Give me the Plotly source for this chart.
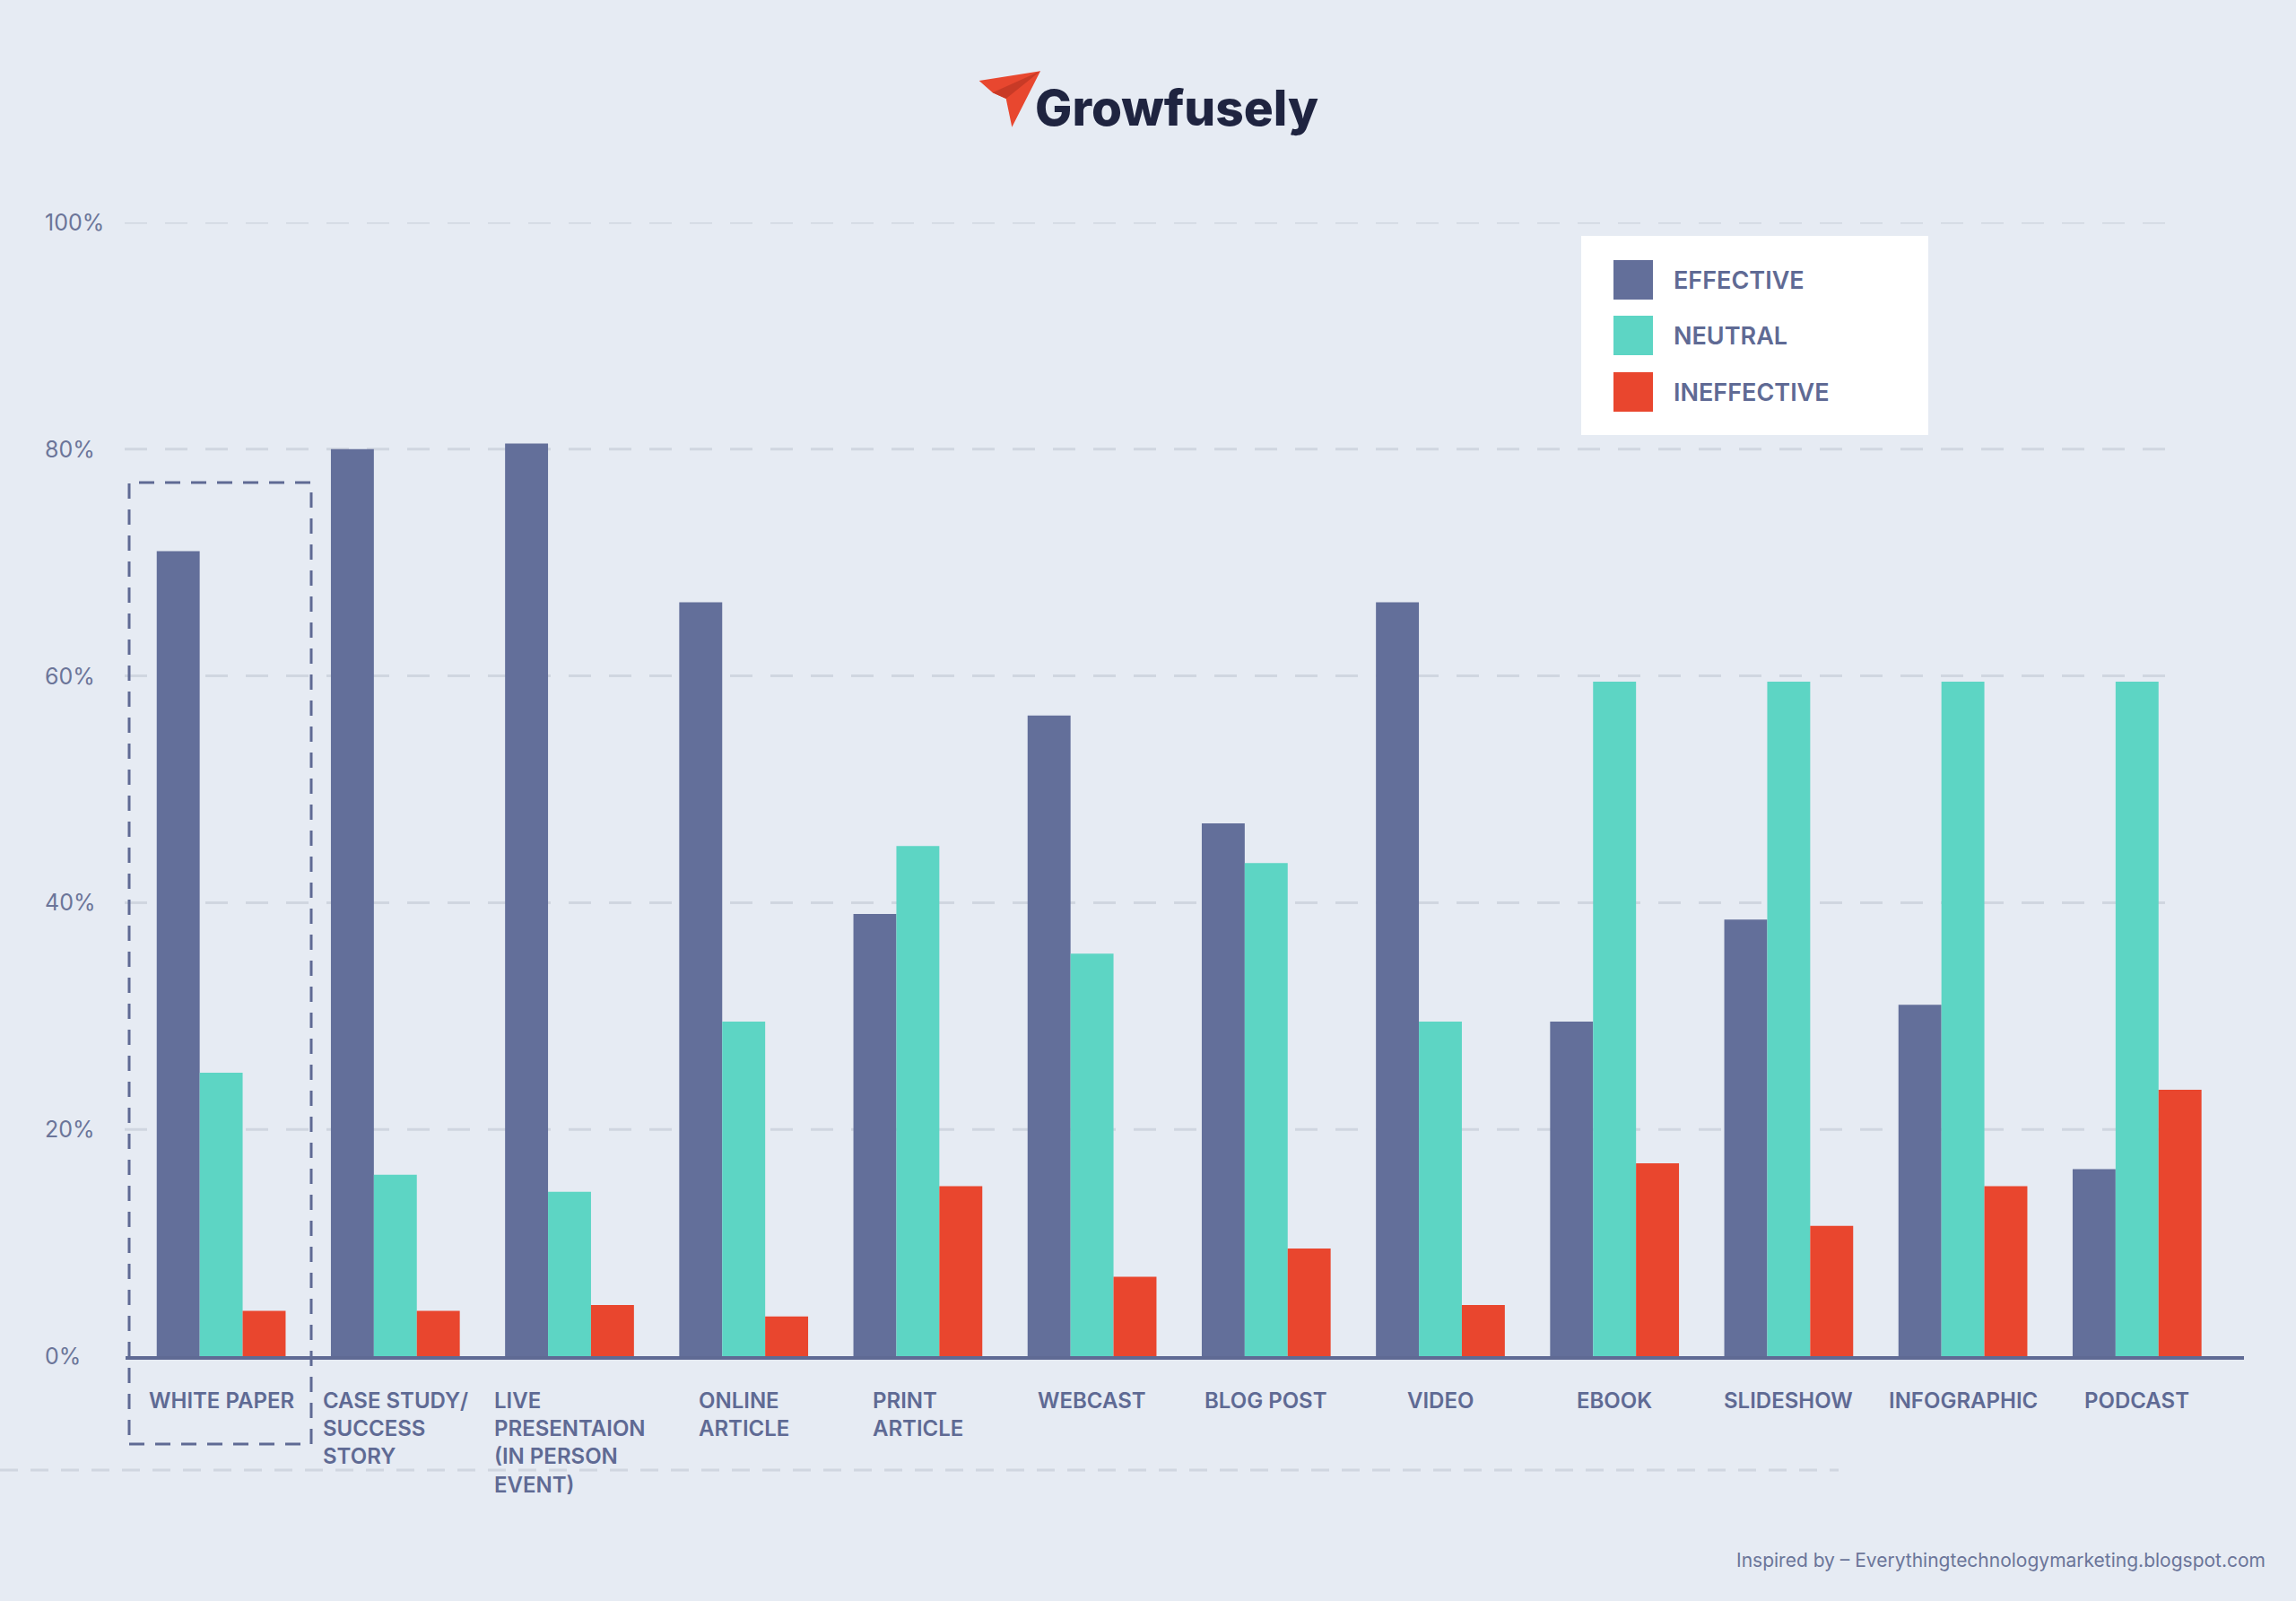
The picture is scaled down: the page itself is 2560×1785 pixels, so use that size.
import plotly.graph_objects as go

# ---------------- data ----------------
categories = ["WHITE PAPER", "CASE STUDY/ SUCCESS STORY", "LIVE PRESENTAION (IN PERSON EVENT)",
              "ONLINE ARTICLE", "PRINT ARTICLE", "WEBCAST", "BLOG POST", "VIDEO",
              "EBOOK", "SLIDESHOW", "INFOGRAPHIC", "PODCAST"]
category_labels = ["WHITE PAPER", "CASE STUDY/<br>SUCCESS<br>STORY",
                   "LIVE<br>PRESENTAION<br>(IN PERSON<br>EVENT)", "ONLINE<br>ARTICLE",
                   "PRINT<br>ARTICLE", "WEBCAST", "BLOG POST", "VIDEO", "EBOOK",
                   "SLIDESHOW", "INFOGRAPHIC", "PODCAST"]
effective = [71, 80, 80.5, 66.5, 39, 56.5, 47, 66.5, 29.5, 38.5, 31, 16.5]
neutral = [25, 16, 14.5, 29.5, 45, 35.5, 43.5, 29.5, 59.5, 59.5, 59.5, 59.5]
ineffective = [4, 4, 4.5, 3.5, 15, 7, 9.5, 4.5, 17, 11.5, 15, 23.5]
series_names = ["EFFECTIVE", "NEUTRAL", "INEFFECTIVE"]
series_colors = ["#636f9a", "#5dd5c4", "#e9462e"]
y_ticks = [0, 20, 40, 60, 80, 100]
y_tick_labels = ["0%", "20%", "40%", "60%", "80%", "100%"]
title_text = "Growfusely"
footer_text = "Inspired by – Everythingtechnologymarketing.blogspot.com"

# ---------------- layout geometry ----------------
W, H = 2560, 1785
L, R_EDGE, T, B_EDGE = 140, 2502, 248, 1512
PW, PH = R_EDGE - L, B_EDGE - T
BG = "#e6ebf3"
TEXT = "#5f6a94"
TEXT_LIGHT = "#6b7599"
GRID = "#d0d6e0"
FONT = "Inter"


def px(xp):
    return (xp - L) / PW


def py(yp):
    return (B_EDGE - yp) / PH


first_center, spacing = 246.6, 194.2
x_range = [(L - first_center) / spacing, (R_EDGE - first_center) / spacing]

fig = go.Figure()
for name, vals, col in zip(series_names, [effective, neutral, ineffective], series_colors):
    fig.add_trace(go.Bar(x=categories, y=vals, name=name, marker=dict(color=col, line=dict(width=0)),
                         showlegend=False, hoverinfo="skip"))

shapes = []
# gridlines
for t in y_ticks[1:]:
    shapes.append(dict(type="line", xref="paper", yref="y", x0=px(139), x1=px(2433), y0=t, y1=t,
                       line=dict(color=GRID, width=3, dash="25px,20px"), layer="below"))
# bottom dashed line
shapes.append(dict(type="line", xref="paper", yref="paper", x0=px(0), x1=px(2050), y0=py(1639), y1=py(1639),
                   line=dict(color=GRID, width=3, dash="20px,14px"), layer="below"))
# highlight box around first category
shapes.append(dict(type="rect", xref="paper", yref="paper", x0=px(144), x1=px(347), y0=py(1610), y1=py(538),
                   line=dict(color=TEXT, width=3, dash="17px,12px"), layer="above"))
# legend box
shapes.append(dict(type="rect", xref="paper", yref="paper", x0=px(1763), x1=px(2150), y0=py(485), y1=py(263),
                   fillcolor="white", line=dict(width=0), layer="above"))
annotations = []
legend_y = [312, 374, 437]
for name, col, ly in zip(series_names, series_colors, legend_y):
    shapes.append(dict(type="rect", xref="paper", yref="paper", x0=px(1799), x1=px(1843),
                       y0=py(ly + 22), y1=py(ly - 22), fillcolor=col, line=dict(width=0), layer="above"))
    annotations.append(dict(text=name, xref="paper", yref="paper", x=px(1864), y=py(ly), xanchor="left",
                            yanchor="middle", showarrow=False,
                            font=dict(family=FONT, size=27, color=TEXT, weight=600)))


# logo paper plane
def path(points):
    return "M" + " L".join(f"{px(a):.5f},{py(b):.5f}" for a, b in points) + " Z"


shapes.append(dict(type="path", xref="paper", yref="paper",
                   path=path([(1091.7, 90), (1160, 79.3), (1128.3, 141.7), (1121.7, 110), (1106.7, 103.3)]),
                   fillcolor="#e8472f", line=dict(width=0), layer="above"))
shapes.append(dict(type="path", xref="paper", yref="paper",
                   path=path([(1106.7, 103.3), (1160, 79.3), (1121.7, 110)]),
                   fillcolor="#c83a26", line=dict(width=0), layer="above"))

annotations.append(dict(text=title_text, xref="paper", yref="paper", x=px(1152), y=py(120), xanchor="left",
                        yanchor="middle", showarrow=False,
                        font=dict(family="Inter", size=55, color="#1f2440", weight=800)))

# y tick labels
for t, lab in zip(y_ticks, y_tick_labels):
    annotations.append(dict(text=lab, xref="paper", yref="y", x=px(48), y=t, xanchor="left", yanchor="middle",
                            showarrow=False, font=dict(family=FONT, size=25, color=TEXT_LIGHT)))

# x category labels
for c, lab in zip(categories, category_labels):
    annotations.append(dict(text=lab, xref="x", yref="paper", x=c, y=py(1545), xanchor="center", yanchor="top",
                            align="left", showarrow=False,
                            font=dict(family=FONT, size=24, color=TEXT, weight=600)))

annotations.append(dict(text=footer_text, xref="paper", yref="paper", x=px(2528), y=py(1739), xanchor="right",
                        yanchor="middle", showarrow=False, font=dict(family=FONT, size=21, color=TEXT_LIGHT)))

fig.update_layout(
    width=W, height=H,
    margin=dict(l=L, r=W - R_EDGE, t=T, b=H - B_EDGE, pad=0),
    paper_bgcolor=BG, plot_bgcolor=BG,
    barmode="group", bargap=0.26, bargroupgap=0,
    xaxis=dict(range=x_range, showticklabels=False, showgrid=False, zeroline=False, showline=True,
               linecolor=TEXT, linewidth=4, ticks=""),
    yaxis=dict(range=[0, 100], showticklabels=False, showgrid=False, zeroline=False, showline=False,
               tickvals=y_ticks),
    shapes=shapes,
    annotations=annotations,
)

fig.write_html("out.html", config={"displayModeBar": False},
               post_script="document.body.style.margin='0';document.body.style.overflow='hidden';"
                           "document.body.style.background='" + BG + "';")
